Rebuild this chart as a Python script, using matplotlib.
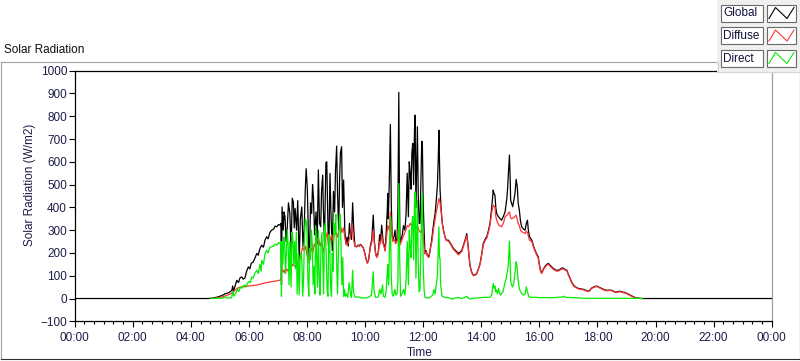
import matplotlib
matplotlib.use('Agg')
import matplotlib.pyplot as plt
from matplotlib.ticker import MultipleLocator, FixedLocator, FixedFormatter
from matplotlib.lines import Line2D
from matplotlib.patches import Rectangle

# time in decimal hours, radiation in W/m2
global_t = [0.0, 4.6, 4.75, 4.9, 5.0, 5.1, 5.18, 5.3, 5.41, 5.44, 5.47, 5.5, 5.58, 5.64, 5.69, 5.75,
            5.8, 5.86, 5.92, 5.98, 6.03, 6.08, 6.15, 6.2, 6.27, 6.32, 6.38, 6.44, 6.5, 6.55, 6.61,
            6.66, 6.72, 6.78, 6.85, 6.9, 6.96, 7.02, 7.07, 7.1, 7.12, 7.14, 7.18, 7.21, 7.24, 7.28,
            7.32, 7.36, 7.41, 7.45, 7.49, 7.53, 7.56, 7.59, 7.64, 7.68, 7.73, 7.77, 7.82, 7.86, 7.9,
            7.94, 7.97, 8.01, 8.05, 8.08, 8.12, 8.16, 8.19, 8.22, 8.26, 8.31, 8.35, 8.39, 8.43, 8.47,
            8.5, 8.54, 8.56, 8.6, 8.65, 8.68, 8.72, 8.75, 8.79, 8.83, 8.87, 8.91, 8.95, 8.98, 9.02,
            9.05, 9.09, 9.12, 9.15, 9.19, 9.22, 9.26, 9.3, 9.34, 9.38, 9.42, 9.46, 9.5, 9.53, 9.57,
            9.61, 9.65, 9.71, 9.76, 9.8, 9.84, 9.88, 9.93, 9.98, 10.03, 10.08, 10.12, 10.18, 10.23,
            10.28, 10.32, 10.36, 10.4, 10.45, 10.5, 10.53, 10.57, 10.62, 10.66, 10.69, 10.73, 10.76,
            10.78, 10.8, 10.83, 10.87, 10.9, 10.93, 10.95, 10.99, 11.03, 11.06, 11.1, 11.13, 11.16,
            11.18, 11.2, 11.24, 11.28, 11.32, 11.37, 11.41, 11.45, 11.49, 11.52, 11.55, 11.58, 11.61,
            11.64, 11.67, 11.7, 11.72, 11.75, 11.78, 11.8, 11.83, 11.86, 11.89, 11.92, 11.95, 11.97,
            12.0, 12.03, 12.06, 12.1, 12.14, 12.18, 12.22, 12.26, 12.29, 12.33, 12.37, 12.41, 12.45,
            12.49, 12.52, 12.54, 12.56, 12.58, 12.62, 12.66, 12.7, 12.75, 12.8, 12.87, 12.95, 13.04,
            13.12, 13.21, 13.28, 13.33, 13.4, 13.44, 13.5, 13.55, 13.61, 13.67, 13.73, 13.8, 13.84,
            13.9, 13.96, 14.02, 14.07, 14.13, 14.19, 14.25, 14.3, 14.36, 14.41, 14.44, 14.47, 14.5,
            14.53, 14.59, 14.65, 14.7, 14.76, 14.82, 14.88, 14.91, 14.93, 14.97, 15.0, 15.01, 15.04,
            15.08, 15.12, 15.16, 15.2, 15.22, 15.24, 15.27, 15.31, 15.35, 15.39, 15.45, 15.51, 15.55,
            15.59, 15.62, 15.66, 15.74, 15.8, 15.85, 15.91, 15.96, 16.0, 16.04, 16.08, 16.14, 16.2,
            16.26, 16.31, 16.37, 16.43, 16.48, 16.55, 16.6, 16.66, 16.73, 16.8, 16.88, 16.95, 17.0,
            17.04, 17.1, 17.18, 17.25, 17.35, 17.45, 17.52, 17.6, 17.7, 17.76, 17.81, 17.9, 17.98,
            18.05, 18.15, 18.25, 18.33, 18.42, 18.5, 18.61, 18.7, 18.78, 18.87, 18.96, 19.05, 19.13,
            19.22, 19.3, 19.4, 19.53, 24.0]
global_v = [0, 0, 2, 6, 10, 15, 21, 25, 36, 55, 30, 45, 80, 70, 90, 95,
            85, 90, 120, 139, 130, 155, 161, 175, 198, 190, 220, 234, 225, 255, 271,
            262, 290, 300, 305, 318, 315, 325, 322, 330, 60, 402, 300, 380, 359, 250,
            315, 420, 373, 200, 440, 424, 310, 395, 300, 430, 168, 350, 402, 230, 300,
            480, 570, 483, 260, 154, 420, 373, 500, 447, 280, 380, 240, 564, 330, 315,
            470, 542, 402, 250, 597, 600, 320, 200, 549, 350, 210, 470, 380, 560, 669,
            460, 300, 520, 640, 666, 400, 520, 300, 240, 270, 230, 330, 280, 260, 420,
            300, 230, 227, 235, 230, 238, 232, 225, 205, 175, 156, 170, 230, 260,
            366, 250, 200, 183, 200, 280, 250, 322, 250, 230, 212, 300, 380,
            461, 350, 500, 764, 420, 280, 256, 270, 300, 250, 260, 400, 905,
            500, 242, 260, 280, 320, 300, 370, 550, 359, 600, 549, 480, 640,
            681, 500, 740, 805, 400, 600, 754, 450, 330, 330, 520, 690, 688,
            420, 300, 198, 210, 190, 183, 200, 230, 254, 300, 340, 373, 430,
            500, 620, 739, 600, 480, 388, 330, 300, 271, 256, 256, 240, 220,
            210, 198, 205, 212, 240, 256, 285, 227, 146, 115, 102, 105, 110,
            130, 154, 200, 242, 260, 271, 300, 330, 400, 476, 460, 454, 400,
            373, 359, 350, 344, 360, 381, 439, 490, 542, 630, 500, 432, 420,
            403, 430, 461, 523, 505, 490, 420, 388, 340, 315, 305, 300, 330,
            344, 300, 271, 256, 230, 212, 195, 183, 150, 124, 112, 130, 142,
            150, 154, 146, 138, 132, 126, 124, 124, 130, 135, 128, 124, 105,
            95, 75, 58, 50, 44, 42, 40, 36, 32, 40, 47, 52, 55,
            50, 44, 38, 36, 37, 36, 28, 30, 32, 28, 26, 20, 15,
            9, 4, 2, 0, 0]

diffuse_t = [4.8, 5.0, 5.2, 5.35, 5.45, 5.5, 5.6, 5.7, 5.85, 6.0, 6.15, 6.3, 6.45, 6.6, 6.75, 6.9,
             7.05, 7.1, 7.13, 7.17, 7.21, 7.25, 7.3, 7.35, 7.4, 7.45, 7.5, 7.55, 7.6, 7.65, 7.7,
             7.75, 7.8, 7.85, 7.9, 7.95, 8.0, 8.05, 8.1, 8.15, 8.2, 8.25, 8.3, 8.35, 8.4, 8.45,
             8.5, 8.55, 8.6, 8.65, 8.7, 8.75, 8.8, 8.85, 8.9, 8.95, 9.0, 9.05, 9.1, 9.15, 9.2,
             9.25, 9.3, 9.35, 9.4, 9.45, 9.5, 9.55, 9.6, 9.65, 9.71, 9.76, 9.8, 9.84, 9.88, 9.93,
             9.98, 10.03, 10.08, 10.12, 10.18, 10.23, 10.28, 10.32, 10.36, 10.4, 10.45, 10.5,
             10.53, 10.57, 10.62, 10.66, 10.69, 10.73, 10.78, 10.83, 10.87, 10.9, 10.95, 11.0,
             11.05, 11.1, 11.16, 11.2, 11.25, 11.3, 11.35, 11.4, 11.45, 11.5, 11.55, 11.6, 11.65,
             11.7, 11.75, 11.8, 11.85, 11.9, 11.95, 12.0, 12.05, 12.1, 12.15, 12.2, 12.25, 12.3,
             12.35, 12.4, 12.45, 12.5, 12.54, 12.58, 12.62, 12.66, 12.7, 12.75, 12.8, 12.87,
             12.95, 13.04, 13.12, 13.21, 13.28, 13.33, 13.4, 13.44, 13.5, 13.55, 13.61, 13.67,
             13.73, 13.8, 13.84, 13.9, 13.96, 14.02, 14.07, 14.13, 14.19, 14.25, 14.3, 14.36,
             14.41, 14.44, 14.47, 14.5, 14.53, 14.59, 14.65, 14.7, 14.76, 14.82, 14.88, 14.93,
             14.97, 15.01, 15.04, 15.08, 15.12, 15.16, 15.2, 15.24, 15.27, 15.31, 15.35, 15.39,
             15.45, 15.51, 15.55, 15.59, 15.62, 15.66, 15.74, 15.8, 15.85, 15.91, 15.96, 16.0,
             16.04, 16.08, 16.14, 16.2, 16.26, 16.31, 16.37, 16.43, 16.48, 16.55, 16.6, 16.66,
             16.73, 16.8, 16.88, 16.95, 17.0, 17.04, 17.1, 17.18, 17.25, 17.35, 17.45, 17.52,
             17.6, 17.7, 17.76, 17.81, 17.9, 17.98, 18.05, 18.15, 18.25, 18.33, 18.42, 18.5,
             18.61, 18.7, 18.78, 18.87, 18.96, 19.05, 19.13, 19.22, 19.3, 19.4, 19.55]
diffuse_v = [0, 5, 12, 20, 28, 35, 45, 50, 52, 55, 57, 60, 65, 70, 73, 76,
             80, 82, 140, 115, 125, 110, 130, 120, 140, 135, 150, 145, 138, 160, 150,
             180, 200, 227, 210, 230, 190, 175, 205, 220, 200, 240, 225, 260, 264, 230,
             250, 200, 230, 270, 290, 210, 260, 280, 250, 300, 290, 270, 300, 320, 290,
             310, 270, 235, 240, 260, 270, 322, 260, 228, 227, 233, 229, 236, 230, 223,
             203, 173, 154, 168, 225, 245, 300, 240, 196, 180, 195, 250,
             240, 280, 240, 225, 208, 260, 320, 300, 380, 330, 250, 260,
             240, 250, 330, 235, 250, 270, 285, 300, 320, 315, 330, 320, 330,
             325, 310, 320, 300, 290, 300, 280, 195, 205, 185, 180, 220, 250,
             300, 340, 380, 410, 440, 420, 380, 325, 298, 268, 254, 252,
             236, 216, 205, 192, 200, 207, 234, 250, 276, 222, 143, 112,
             100, 103, 108, 127, 150, 195, 236, 254, 265, 293, 322, 380,
             410, 405, 400, 360, 344, 325, 318, 315, 330, 359, 365, 373,
             380, 355, 350, 352, 355, 360, 366, 345, 330, 320, 300, 293,
             290, 285, 295, 290, 275, 256, 250, 225, 208, 190, 178, 146,
             120, 110, 127, 138, 146, 150, 142, 134, 128, 123, 120, 121,
             126, 131, 125, 121, 102, 92, 72, 55, 48, 42, 40, 38,
             34, 30, 38, 45, 50, 53, 48, 42, 36, 34, 35, 34,
             26, 28, 30, 26, 24, 18, 13, 7, 3, 1, 0]

direct_t = [4.7, 4.9, 5.1, 5.18, 5.22, 5.4, 5.44, 5.48, 5.55, 5.6, 5.65, 5.7, 5.75, 5.8, 5.86, 5.9,
            5.95, 6.0, 6.05, 6.1, 6.15, 6.2, 6.27, 6.32, 6.38, 6.42, 6.44, 6.5, 6.55, 6.61, 6.66,
            6.72, 6.78, 6.85, 6.9, 6.96, 7.02, 7.07, 7.1, 7.12, 7.14, 7.17, 7.2, 7.23, 7.26, 7.29,
            7.32, 7.35, 7.38, 7.41, 7.45, 7.48, 7.51, 7.54, 7.57, 7.6, 7.63, 7.66, 7.7, 7.73, 7.76,
            7.79, 7.82, 7.85, 7.88, 7.91, 7.94, 7.97, 8.0, 8.03, 8.06, 8.09, 8.12, 8.15, 8.18,
            8.21, 8.24, 8.27, 8.3, 8.33, 8.36, 8.39, 8.42, 8.45, 8.48, 8.51, 8.54, 8.57, 8.6,
            8.63, 8.66, 8.69, 8.72, 8.75, 8.78, 8.81, 8.84, 8.87, 8.9, 8.93, 8.96, 8.99, 9.02,
            9.05, 9.08, 9.11, 9.14, 9.17, 9.2, 9.23, 9.26, 9.29, 9.32, 9.35, 9.4, 9.45, 9.5,
            9.53, 9.57, 9.6, 9.65, 9.75, 9.85, 9.95, 10.05, 10.15, 10.22, 10.28, 10.31, 10.36,
            10.45, 10.5, 10.55, 10.6, 10.63, 10.69, 10.73, 10.75, 10.78, 10.81, 10.84, 10.87,
            10.9, 10.93, 10.97, 11.02, 11.06, 11.1, 11.13, 11.16, 11.19, 11.22, 11.27, 11.32,
            11.37, 11.41, 11.45, 11.49, 11.52, 11.55, 11.58, 11.61, 11.64, 11.67, 11.7, 11.72,
            11.75, 11.78, 11.8, 11.83, 11.86, 11.89, 11.92, 11.95, 11.97, 12.0, 12.03, 12.06,
            12.12, 12.2, 12.28, 12.33, 12.37, 12.41, 12.45, 12.49, 12.52, 12.54, 12.56, 12.58,
            12.6, 12.65, 12.75, 12.9, 13.0, 13.1, 13.2, 13.3, 13.4, 13.5, 13.55, 13.6, 13.7,
            13.8, 13.9, 14.0, 14.1, 14.2, 14.3, 14.36, 14.41, 14.44, 14.47, 14.5, 14.53, 14.56,
            14.59, 14.63, 14.66, 14.7, 14.75, 14.79, 14.82, 14.86, 14.9, 14.93, 14.97, 15.0,
            15.01, 15.04, 15.08, 15.12, 15.16, 15.2, 15.22, 15.24, 15.27, 15.31, 15.35, 15.39,
            15.45, 15.51, 15.55, 15.59, 15.63, 15.7, 15.8, 15.9, 16.0, 16.2, 16.4, 16.6, 16.8,
            16.85, 16.9, 17.2, 17.4, 17.6, 18.0, 18.5, 19.0, 19.55]
direct_v = [0, 1, 2, 8, 2, 3, 30, 10, 25, 40, 30, 51, 45, 55, 60, 50,
            66, 75, 70, 95, 90, 110, 124, 110, 150, 120, 168, 150, 195, 212, 200,
            225, 227, 230, 240, 234, 245, 241, 250, 10, 250, 150, 270, 240, 110, 200,
            300, 230, 60, 250, 50, 290, 270, 150, 250, 130, 290, 20, 200, 15, 170,
            200, 170, 10, 80, 260, 350, 340, 290, 80, 10, 220, 170, 300, 240,
            60, 140, 20, 320, 190, 50, 300, 90, 15, 220, 290, 180, 20, 300,
            330, 180, 40, 10, 280, 250, 60, 10, 200, 120, 330, 280, 370, 150,
            20, 200, 340, 370, 230, 60, 180, 10, 40, 10, 20, 5, 70, 15,
            5, 124, 30, 5, 8, 3, 2, 3, 8, 15, 117, 30, 5,
            6, 40, 20, 60, 10, 5, 40, 88, 150, 60, 230, 359,
            100, 20, 10, 40, 15, 20, 80, 505, 180, 10, 20, 40,
            15, 80, 250, 60, 300, 230, 180, 330, 360, 170, 420, 468,
            90, 280, 430, 150, 30, 40, 230, 390, 461, 140, 40, 5,
            3, 2, 10, 15, 40, 20, 60, 100, 220, 315, 180, 176,
            60, 10, 5, 3, -3, 2, 5, 0, 3, 10, 2, -2, 0,
            3, 2, 4, 5, 5, 6, 15, 66, 45, 55, 30, 37, 20,
            44, 25, 15, 22, 30, 55, 73, 90, 120, 146, 252, 140,
            80, 60, 51, 70, 110, 161, 150, 124, 80, 44, 30, 22,
            15, 20, 51, 30, 10, 5, 6, 5, 4, 4, 3, 5, 7,
            10, 5, 4, 2, 1, 1, 1, 1, 0]

series_names = ['Global', 'Diffuse', 'Direct']
series_colors = ['#000000', '#ff3333', '#00ee00']
hour_ticks = list(range(0, 25, 2))
hour_labels = ['%02d:00' % (h % 24) for h in hour_ticks]
y_ticks = list(range(-100, 1001, 100))

W, H = 800, 361
fig = plt.figure(figsize=(W / 100, H / 100), dpi=100)
fig.patch.set_facecolor('white')
plt.rcParams['font.family'] = ['Liberation Sans', 'DejaVu Sans']
txt = '#1c1c48'
fs = 8.5

def fx(px):
    return px / W

def fy(py):
    return 1 - py / H

# outer frame of the graph control
fig.add_artist(Line2D([fx(0.5), fx(717)], [fy(61.5), fy(61.5)], color='#a0a0a0', lw=0.8))
fig.add_artist(Line2D([fx(0.5), fx(0.5)], [fy(61.5), fy(359)], color='#a0a0a0', lw=0.8))
fig.add_artist(Line2D([fx(0.5), fx(799.5)], [fy(359), fy(359)], color='#303030', lw=0.8))
fig.add_artist(Line2D([fx(799.5), fx(799.5)], [fy(72), fy(359)], color='#303030', lw=0.8))
fig.text(fx(4), fy(50), 'Solar Radiation', fontsize=fs, va='center', ha='left', color='#101010')

ax = fig.add_axes([fx(74.7), fy(321.3), fx(771.7) - fx(74.7), fy(70.7) - fy(321.3)])
ax.plot(global_t, global_v, color=series_colors[0], lw=0.9, zorder=2)
ax.plot(diffuse_t, diffuse_v, color=series_colors[1], lw=0.9, zorder=3)
ax.plot(direct_t, direct_v, color=series_colors[2], lw=0.9, zorder=4)

ax.set_xlim(0, 24)
ax.set_ylim(-100, 1000)
ax.xaxis.set_major_locator(FixedLocator(hour_ticks))
ax.xaxis.set_major_formatter(FixedFormatter(hour_labels))
ax.xaxis.set_minor_locator(MultipleLocator(1 / 3))
ax.set_yticks(y_ticks)
ax.tick_params(axis='x', which='major', length=4, width=0.8, pad=3.5, labelsize=fs, colors='black', labelcolor=txt)
ax.tick_params(axis='x', which='minor', length=2, width=0.8, colors='black')
ax.tick_params(axis='y', which='major', length=4, width=0.8, pad=1.5, labelsize=fs, colors='black', labelcolor=txt)
for side in ['left', 'top', 'bottom']:
    ax.spines[side].set_color('black')
    ax.spines[side].set_linewidth(0.9)
ax.spines['right'].set_color('#a0a0a0')
ax.spines['right'].set_linewidth(0.9)

ax.set_ylabel('Solar Radiation (W/m2)', fontsize=fs, color=txt)
ax.yaxis.set_label_coords(-0.056, 0.546)
ax.set_xlabel('Time', fontsize=fs, color=txt)
ax.xaxis.set_label_coords(0.495, -0.104)

# legend panel (top right)
fig.add_artist(Rectangle((fx(717), fy(72)), fx(800) - fx(717), fy(0) - fy(72),
                         facecolor='#f0f0f0', edgecolor='none', zorder=5))
fig.add_artist(Line2D([fx(717), fx(800)], [fy(71.5), fy(71.5)], color='#d4d4d4', lw=0.8, zorder=6))
fig.add_artist(Line2D([fx(717.5), fx(717.5)], [fy(61), fy(72)], color='#d4d4d4', lw=0.8, zorder=6))
row_tops = [4.5, 27, 49.5]
for name, color, top in zip(series_names, series_colors, row_tops):
    bot = top + 17
    fig.add_artist(Rectangle((fx(721), fy(bot)), fx(763) - fx(721), fy(top) - fy(bot),
                             facecolor='white', edgecolor='#6a6a6a', lw=0.8, zorder=7))
    fig.text(fx(723.5), fy((top + bot) / 2 + 0.5), name, fontsize=fs, va='center', ha='left',
             color='#10103c', zorder=8)
    fig.add_artist(Rectangle((fx(767), fy(bot)), fx(795.5) - fx(767), fy(top) - fy(bot),
                             facecolor='white', edgecolor='#6a6a6a', lw=0.8, zorder=7))
    zx = [769, 775.5, 787, 794]
    zy = [bot - 3, top + 3, bot - 3, top + 3]
    fig.add_artist(Line2D([fx(v) for v in zx], [fy(v) for v in zy], color=color, lw=0.8, zorder=8))

plt.savefig('out.png', dpi=100)
plt.close()
